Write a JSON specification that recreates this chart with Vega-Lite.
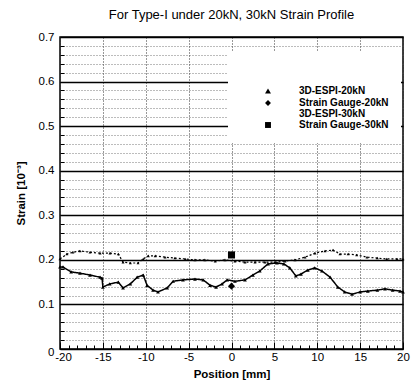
{
  "$schema": "https://vega.github.io/schema/vega-lite/v6.json",
  "width": 343,
  "height": 312,
  "autosize": "none",
  "padding": {"left": 60, "top": 37, "right": 8, "bottom": 32},
  "background": "white",
  "title": {"text": "For Type-I under 20kN, 30kN Strain Profile", "fontSize": 13, "font": "Liberation Sans", "fontWeight": "normal", "anchor": "middle", "offset": 9, "color": "black"},
  "config": {
    "view": {"stroke": "black", "strokeWidth": 1.5},
    "font": "Liberation Sans"
  },
  "data": {"values": [
    {"series": "3D-ESPI-20kN", "pos": -20, "strain": 0.184},
    {"series": "3D-ESPI-20kN", "pos": -19.65, "strain": 0.184},
    {"series": "3D-ESPI-20kN", "pos": -18.7, "strain": 0.173},
    {"series": "3D-ESPI-20kN", "pos": -17.67, "strain": 0.170},
    {"series": "3D-ESPI-20kN", "pos": -16.5, "strain": 0.166},
    {"series": "3D-ESPI-20kN", "pos": -15.33, "strain": 0.161},
    {"series": "3D-ESPI-20kN", "pos": -15.1, "strain": 0.159},
    {"series": "3D-ESPI-20kN", "pos": -15.0, "strain": 0.139},
    {"series": "3D-ESPI-20kN", "pos": -14.2, "strain": 0.146},
    {"series": "3D-ESPI-20kN", "pos": -13.2, "strain": 0.150},
    {"series": "3D-ESPI-20kN", "pos": -12.65, "strain": 0.137},
    {"series": "3D-ESPI-20kN", "pos": -11.8, "strain": 0.146},
    {"series": "3D-ESPI-20kN", "pos": -11.0, "strain": 0.161},
    {"series": "3D-ESPI-20kN", "pos": -10.3, "strain": 0.166},
    {"series": "3D-ESPI-20kN", "pos": -9.85, "strain": 0.143},
    {"series": "3D-ESPI-20kN", "pos": -9.15, "strain": 0.132},
    {"series": "3D-ESPI-20kN", "pos": -8.57, "strain": 0.128},
    {"series": "3D-ESPI-20kN", "pos": -7.5, "strain": 0.137},
    {"series": "3D-ESPI-20kN", "pos": -6.8, "strain": 0.152},
    {"series": "3D-ESPI-20kN", "pos": -5.66, "strain": 0.155},
    {"series": "3D-ESPI-20kN", "pos": -4.26, "strain": 0.157},
    {"series": "3D-ESPI-20kN", "pos": -3.3, "strain": 0.155},
    {"series": "3D-ESPI-20kN", "pos": -2.5, "strain": 0.143},
    {"series": "3D-ESPI-20kN", "pos": -1.8, "strain": 0.139},
    {"series": "3D-ESPI-20kN", "pos": -1.1, "strain": 0.146},
    {"series": "3D-ESPI-20kN", "pos": -0.5, "strain": 0.155},
    {"series": "3D-ESPI-20kN", "pos": 0.4, "strain": 0.152},
    {"series": "3D-ESPI-20kN", "pos": 1.57, "strain": 0.155},
    {"series": "3D-ESPI-20kN", "pos": 2.5, "strain": 0.166},
    {"series": "3D-ESPI-20kN", "pos": 3.3, "strain": 0.175},
    {"series": "3D-ESPI-20kN", "pos": 4.26, "strain": 0.191},
    {"series": "3D-ESPI-20kN", "pos": 5.3, "strain": 0.193},
    {"series": "3D-ESPI-20kN", "pos": 6.1, "strain": 0.191},
    {"series": "3D-ESPI-20kN", "pos": 6.8, "strain": 0.182},
    {"series": "3D-ESPI-20kN", "pos": 7.5, "strain": 0.164},
    {"series": "3D-ESPI-20kN", "pos": 8.1, "strain": 0.168},
    {"series": "3D-ESPI-20kN", "pos": 8.9, "strain": 0.177},
    {"series": "3D-ESPI-20kN", "pos": 9.7, "strain": 0.182},
    {"series": "3D-ESPI-20kN", "pos": 10.55, "strain": 0.175},
    {"series": "3D-ESPI-20kN", "pos": 11.5, "strain": 0.161},
    {"series": "3D-ESPI-20kN", "pos": 12.4, "strain": 0.139},
    {"series": "3D-ESPI-20kN", "pos": 13.2, "strain": 0.128},
    {"series": "3D-ESPI-20kN", "pos": 14.05, "strain": 0.123},
    {"series": "3D-ESPI-20kN", "pos": 15.0, "strain": 0.128},
    {"series": "3D-ESPI-20kN", "pos": 15.9, "strain": 0.130},
    {"series": "3D-ESPI-20kN", "pos": 17.0, "strain": 0.132},
    {"series": "3D-ESPI-20kN", "pos": 17.9, "strain": 0.135},
    {"series": "3D-ESPI-20kN", "pos": 18.8, "strain": 0.132},
    {"series": "3D-ESPI-20kN", "pos": 19.65, "strain": 0.130},
    {"series": "3D-ESPI-20kN", "pos": 20, "strain": 0.128},
    {"series": "3D-ESPI-30kN", "pos": -20, "strain": 0.202},
    {"series": "3D-ESPI-30kN", "pos": -19.2, "strain": 0.213},
    {"series": "3D-ESPI-30kN", "pos": -18.5, "strain": 0.217},
    {"series": "3D-ESPI-30kN", "pos": -17.67, "strain": 0.220},
    {"series": "3D-ESPI-30kN", "pos": -16.5, "strain": 0.217},
    {"series": "3D-ESPI-30kN", "pos": -15.33, "strain": 0.215},
    {"series": "3D-ESPI-30kN", "pos": -14.17, "strain": 0.215},
    {"series": "3D-ESPI-30kN", "pos": -13.2, "strain": 0.213},
    {"series": "3D-ESPI-30kN", "pos": -12.65, "strain": 0.195},
    {"series": "3D-ESPI-30kN", "pos": -11.8, "strain": 0.193},
    {"series": "3D-ESPI-30kN", "pos": -10.9, "strain": 0.193},
    {"series": "3D-ESPI-30kN", "pos": -10.3, "strain": 0.202},
    {"series": "3D-ESPI-30kN", "pos": -9.7, "strain": 0.209},
    {"series": "3D-ESPI-30kN", "pos": -8.9, "strain": 0.209},
    {"series": "3D-ESPI-30kN", "pos": -7.75, "strain": 0.206},
    {"series": "3D-ESPI-30kN", "pos": -6.6, "strain": 0.204},
    {"series": "3D-ESPI-30kN", "pos": -5.4, "strain": 0.202},
    {"series": "3D-ESPI-30kN", "pos": -4.26, "strain": 0.200},
    {"series": "3D-ESPI-30kN", "pos": -3.1, "strain": 0.200},
    {"series": "3D-ESPI-30kN", "pos": -1.9, "strain": 0.197},
    {"series": "3D-ESPI-30kN", "pos": -0.76, "strain": 0.200},
    {"series": "3D-ESPI-30kN", "pos": 0.4, "strain": 0.197},
    {"series": "3D-ESPI-30kN", "pos": 1.57, "strain": 0.195},
    {"series": "3D-ESPI-30kN", "pos": 2.74, "strain": 0.195},
    {"series": "3D-ESPI-30kN", "pos": 3.9, "strain": 0.195},
    {"series": "3D-ESPI-30kN", "pos": 5.07, "strain": 0.195},
    {"series": "3D-ESPI-30kN", "pos": 6.24, "strain": 0.197},
    {"series": "3D-ESPI-30kN", "pos": 7.4, "strain": 0.200},
    {"series": "3D-ESPI-30kN", "pos": 8.57, "strain": 0.206},
    {"series": "3D-ESPI-30kN", "pos": 9.74, "strain": 0.215},
    {"series": "3D-ESPI-30kN", "pos": 10.9, "strain": 0.220},
    {"series": "3D-ESPI-30kN", "pos": 11.84, "strain": 0.222},
    {"series": "3D-ESPI-30kN", "pos": 12.65, "strain": 0.213},
    {"series": "3D-ESPI-30kN", "pos": 13.6, "strain": 0.213},
    {"series": "3D-ESPI-30kN", "pos": 14.6, "strain": 0.211},
    {"series": "3D-ESPI-30kN", "pos": 15.8, "strain": 0.206},
    {"series": "3D-ESPI-30kN", "pos": 17.0, "strain": 0.204},
    {"series": "3D-ESPI-30kN", "pos": 18.1, "strain": 0.202},
    {"series": "3D-ESPI-30kN", "pos": 19.3, "strain": 0.202},
    {"series": "3D-ESPI-30kN", "pos": 20, "strain": 0.202},
    {"series": "Strain Gauge-20kN", "pos": 0, "strain": 0.141},
    {"series": "Strain Gauge-30kN", "pos": 0, "strain": 0.211}
  ]},
  "encoding": {
    "x": {
      "field": "pos", "type": "quantitative",
      "scale": {"domain": [-20, 20], "nice": false, "zero": false},
      "title": "Position [mm]",
      "axis": {
        "values": [-20,-19,-18,-17,-16,-15,-14,-13,-12,-11,-10,-9,-8,-7,-6,-5,-4,-3,-2,-1,0,1,2,3,4,5,6,7,8,9,10,11,12,13,14,15,16,17,18,19,20],
        "labelExpr": "datum.value % 5 == 0 ? (datum.value < 0 ? '-' + abs(datum.value) : '' + datum.value) : ''",
        "tickSize": {"condition": {"test": "datum.value % 5 == 0", "value": -7}, "value": -4},
        "tickColor": "black",
        "labelPadding": 9,
        "labelOffset": {"condition": {"test": "datum.value == -20", "value": 3}, "value": 0},
        "grid": true,
        "gridDash": [1, 2],
        "gridColor": "#333333",
        "gridOpacity": {"condition": {"test": "datum.value % 5 == 0", "value": 1}, "value": 0},
        "domain": false,
        "labelFontSize": 11.5,
        "labelColor": "black",
        "labelFlush": false,
        "labelOverlap": false,
        "titleFontSize": 11.5,
        "titleFontWeight": "bold",
        "titleColor": "black",
        "titlePadding": 3
      }
    },
    "y": {
      "field": "strain", "type": "quantitative",
      "scale": {"domain": [0, 0.7], "nice": false, "zero": true},
      "title": "Strain [10⁻³]",
      "axis": {
        "values": [0,0.02,0.04,0.06,0.08,0.1,0.12,0.14,0.16,0.18,0.2,0.22,0.24,0.26,0.28,0.3,0.32,0.34,0.36,0.38,0.4,0.42,0.44,0.46,0.48,0.5,0.52,0.54,0.56,0.58,0.6,0.62,0.64,0.66,0.68,0.7],
        "labelExpr": "abs(datum.value*10 - round(datum.value*10)) < 0.001 ? (datum.value == 0 ? '0' : format(datum.value, '.1f')) : ''",
        "tickSize": {"condition": {"test": "abs(datum.value*10 - round(datum.value*10)) < 0.001", "value": -7}, "value": -4},
        "tickColor": "black",
        "labelPadding": 13,
        "labelOffset": {"condition": {"test": "datum.value == 0", "value": 3}, "value": 0},
        "grid": true,
        "gridColor": {"condition": {"test": "abs(datum.value*10 - round(datum.value*10)) < 0.001", "value": "black"}, "value": "#555555"},
        "gridDash": {"condition": {"test": "abs(datum.value*10 - round(datum.value*10)) < 0.001", "value": []}, "value": [1, 2]},
        "gridWidth": {"condition": {"test": "abs(datum.value*10 - round(datum.value*10)) < 0.001", "value": 1.3}, "value": 0.8},
        "domain": false,
        "labelFontSize": 11.5,
        "labelColor": "black",
        "labelFlush": false,
        "labelOverlap": false,
        "titleFontSize": 11.5,
        "titleFontWeight": "bold",
        "titleColor": "black",
        "titlePadding": 12
      }
    }
  },
  "layer": [
    {
      "transform": [{"filter": "indexof(datum.series, '3D-ESPI') == 0"}],
      "mark": {"type": "line", "color": "black"},
      "encoding": {
        "detail": {"field": "series"},
        "strokeDash": {"field": "series", "type": "nominal", "scale": {"domain": ["3D-ESPI-20kN", "3D-ESPI-30kN"], "range": [[1, 0], [2, 2]]}, "legend": null},
        "strokeWidth": {"field": "series", "type": "nominal", "scale": {"domain": ["3D-ESPI-20kN", "3D-ESPI-30kN"], "range": [1.5, 1.2]}, "legend": null}
      }
    },
    {
      "transform": [{"filter": "datum.series == '3D-ESPI-30kN'"}],
      "mark": {"type": "point", "shape": "triangle-up", "filled": true, "color": "black", "size": 9, "opacity": 1}
    },
    {
      "mark": {"type": "point", "filled": true, "color": "black", "opacity": 1, "size": 14},
      "encoding": {
        "shape": {
          "field": "series", "type": "nominal",
          "scale": {"domain": ["3D-ESPI-20kN", "Strain Gauge-20kN", "3D-ESPI-30kN", "Strain Gauge-30kN"], "range": ["triangle-up", "diamond", "M0,0", "square"]},
          "legend": {
            "title": " ",
            "titleFontSize": 18,
            "titlePadding": 5,
            "orient": "none",
            "legendX": 168,
            "legendY": 14,
            "fillColor": "white",
            "padding": 12,
            "symbolOffset": 23,
            "symbolSize": 35,
            "symbolFillColor": "black",
            "symbolStrokeColor": "black",
            "labelOffset": 26,
            "labelFontSize": 10,
            "labelFontWeight": "bold",
            "labelColor": "black",
            "rowPadding": 0,
            "labelLimit": 200
          }
        }
      }
    },
    {
      "transform": [{"filter": "indexof(datum.series, 'Strain Gauge') == 0"}],
      "mark": {"type": "point", "filled": true, "color": "black", "opacity": 1, "size": 50},
      "encoding": {
        "shape": {"field": "series", "type": "nominal"}
      }
    }
  ]
}
